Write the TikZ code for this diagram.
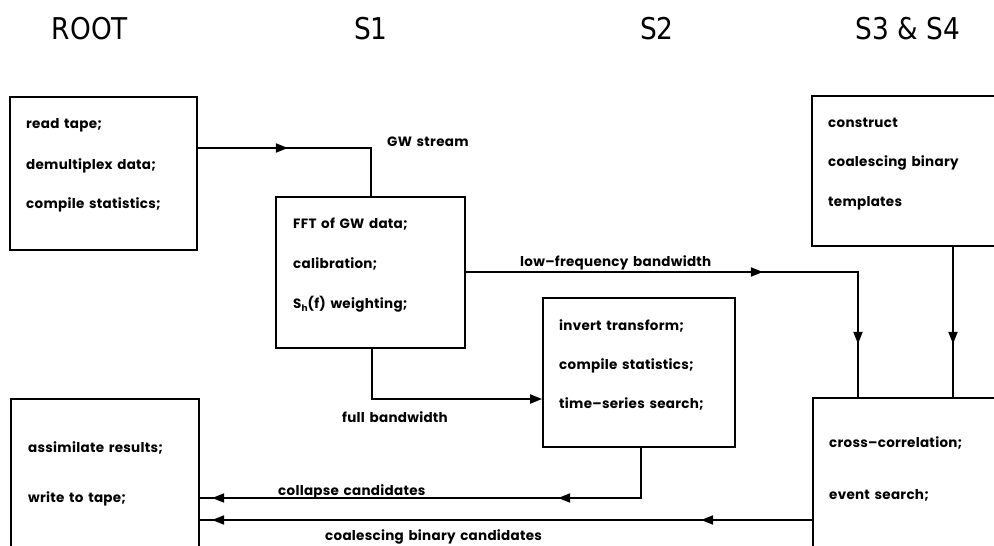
\documentclass[tikz,border=0pt]{standalone}
\usepackage{fontspec}
\setmainfont{Poppins}
\newfontfamily\bodyfont[LetterSpace=2,WordSpace=1.5]{Poppins}
\newfontfamily\hdrfont{DejaVu Sans}
\usetikzlibrary{arrows.meta,decorations.markings,calc}
\begin{document}
\begin{tikzpicture}[x=1pt,y=-1pt,
  box/.style={draw, line width=1.8pt, inner sep=0pt},
  txt/.style={anchor=base west, inner sep=0pt, font=\bodyfont\bfseries\fontsize{13.5}{15}\selectfont},
  hdr/.style={anchor=base, inner sep=0pt, font=\hdrfont\fontsize{30}{34}\selectfont, xscale=0.88},
  conn/.style={line width=1.8pt},
  tri/.tip={Triangle[length=12pt,width=9pt]},
  midarr/.style={postaction={decorate,decoration={markings,mark=at position #1 with {\arrow{tri}}}}}
]
\useasboundingbox (0,0) rectangle (994,546);

% headers
\node[hdr] (hroot) at (90,39) {ROOT};
\node[hdr] (hs1) at (371,39) {S1};
\node[hdr] (hs2) at (657,39) {S2};
\node[hdr] (hs34) at (908,39) {S3 \& S4};

% boxes
\node[box, minimum width=187pt, minimum height=153pt] (root1) at (103.5,173.5) {};
\node[box, minimum width=189pt, minimum height=151pt] (fft) at (370.5,272.5) {};
\node[box, minimum width=192pt, minimum height=149pt] (s2) at (639,372.5) {};
\node[box, minimum width=193pt, minimum height=150pt] (tmpl) at (908.5,171) {};
\node[box, minimum width=192pt, minimum height=172pt] (s34) at (909,484) {};
\node[box, minimum width=188pt, minimum height=171pt] (root2) at (105,484.5) {};

% box texts
\node[txt] (t11) at (26,128) {read tape;};
\node[txt] (t12) at (26,169) {demultiplex data;};
\node[txt] (t13) at (26,208) {compile statistics;};

\node[txt] (t21) at (293,228) {FFT of GW data;};
\node[txt] (t22) at (293,268) {calibration;};
\node[txt] (t23) at (293,308) {S\raisebox{-3.5pt}{\fontsize{9}{10}\selectfont h}(f) weighting;};

\node[txt] (t31) at (559,330) {invert transform;};
\node[txt] (t32) at (559,369) {compile statistics;};
\node[txt] (t33) at (559,408) {time–series search;};

\node[txt] (t41) at (828,127) {construct};
\node[txt] (t42) at (828,166) {coalescing binary};
\node[txt] (t43) at (828,206) {templates};

\node[txt] (t51) at (829,447) {cross–correlation;};
\node[txt] (t52) at (829,499) {event search;};

\node[txt] (t61) at (28,452) {assimilate results;};
\node[txt] (t62) at (28,502) {write to tape;};

% connector labels
\node[txt] (lgw) at (387,146) {GW stream};
\node[txt] (llf) at (520,266) {low–frequency bandwidth};
\node[txt] (lfb) at (342,422) {full bandwidth};
\node[txt] (lcc) at (278,495) {collapse candidates};
\node[txt] (lcb) at (325,540) {coalescing binary candidates};

% junction coordinates
\coordinate (j1) at (371,148);
\coordinate (j2) at (858,272);
\coordinate (j3) at (372,399);
\coordinate (j4) at (953,300);
\coordinate (j5) at (641,498);
\coordinate (j6) at (600,520);

% connectors
\draw[conn, midarr=90pt] (root1.east |- j1) -- (j1) -- (fft.north -| j1);
\draw[conn, midarr=297pt, midarr=464pt] (fft.east |- j2) -- (j2) -- (s34.north -| j2);
\draw[conn, -{tri}] (fft.south -| j3) -- (j3) -- (s2.west |- j3);
\draw[conn, midarr=97pt] (tmpl.south -| j4) -- (s34.north -| j4);
\draw[conn, midarr=133pt, midarr=479pt] (s2.south -| j5) -- (j5) -- (root2.east |- j5);
\draw[conn, midarr=111pt, midarr=600pt] (s34.west |- j6) -- (root2.east |- j6);
\end{tikzpicture}
\end{document}
